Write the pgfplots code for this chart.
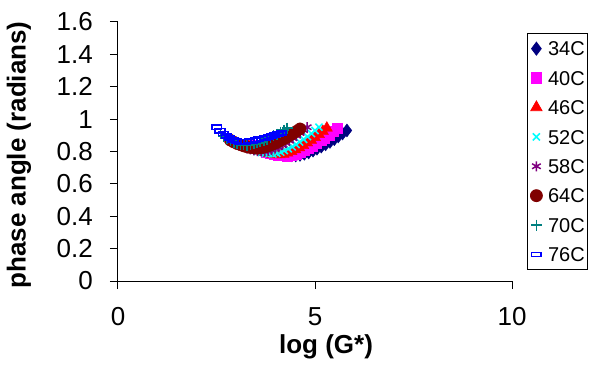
\documentclass[border=0pt]{standalone}
\usepackage{pgfplots}
\pgfplotsset{compat=1.18}
\usepackage{fontspec}
\setmainfont{Liberation Sans}
\definecolor{c34}{RGB}{0,0,128}
\definecolor{c40}{RGB}{255,0,255}
\definecolor{c46}{RGB}{255,0,0}
\definecolor{c52}{RGB}{0,255,255}
\definecolor{c58}{RGB}{128,0,128}
\definecolor{c64}{RGB}{128,0,0}
\definecolor{c70}{RGB}{0,128,128}
\definecolor{c76}{RGB}{0,0,255}
\newcommand{\bigf}{\fontsize{26}{30}\selectfont}
\newcommand{\legf}{\fontsize{20}{24}\selectfont}
\pgfplotsset{myleg/.style={legend image code/.code={\draw[##1,only marks] plot coordinates {(0pt,0pt)};}}}
\begin{document}
\begin{tikzpicture}
\begin{axis}[
  name=ax,
  scale only axis, width=394pt, height=259pt,
  xmin=0, xmax=10, ymin=0, ymax=1.6,
  xtick={0,5,10}, ytick={0,0.2,0.4,0.6,0.8,1,1.2,1.4,1.6},
  axis x line*=bottom, axis y line*=left,
  axis line style={-, line width=1pt},
  tick align=outside, major tick length=8pt,
  tick style={black, line width=1pt},
  ticklabel style={font=\bigf, inner sep=0pt},
  yticklabel style={anchor=east, xshift=-17pt},
  xticklabel style={anchor=north, yshift=-18pt},
  /pgf/number format/assume math mode=true,
  xlabel={\textbf{log (G*)}}, ylabel={\textbf{phase angle (radians)}},
  every axis x label/.style={at={(rel axis cs:0.5,0)}, xshift=11pt, yshift=-72pt, anchor=base, inner sep=0pt, font=\bigf},
  every axis y label/.style={at={(rel axis cs:0,0.5)}, xshift=-99pt, yshift=-3.5pt, rotate=90, anchor=center, inner sep=0pt, font=\bigf},
  legend style={at={(rel axis cs:1.0381,0.9575)}, anchor=north west, draw=black, line width=0.8pt,
    font=\legf, row sep=14.9pt, column sep=5.6pt, inner xsep=3pt, inner ysep=8pt,
    nodes={inner sep=0pt, text height=14.5pt, text depth=0pt}},
  legend cell align=left,
]
\addplot[only marks, myleg, mark=diamond*, mark size=6.5pt, color=c34] coordinates {
(3.65,0.840)(3.76,0.825)(3.87,0.812)(3.97,0.800)(4.08,0.791)(4.19,0.784)(4.30,0.779)(4.41,0.776)(4.51,0.775)
(4.62,0.779)(4.73,0.786)(4.84,0.794)(4.95,0.805)(5.05,0.817)(5.16,0.830)(5.27,0.844)(5.38,0.859)(5.49,0.876)(5.59,0.893)(5.70,0.911)(5.81,0.930)};
\addlegendentry{34C}
\addplot[only marks, myleg, mark=square*, mark size=5.2pt, color=c40] coordinates {
(3.45,0.840)(3.56,0.825)(3.66,0.812)(3.77,0.800)(3.87,0.791)(3.98,0.784)(4.08,0.779)(4.19,0.776)(4.29,0.775)
(4.40,0.779)(4.51,0.787)(4.61,0.796)(4.72,0.808)(4.82,0.821)(4.93,0.835)(5.03,0.851)(5.14,0.868)(5.24,0.886)(5.35,0.904)(5.45,0.924)(5.56,0.945)};
\addlegendentry{40C}
\addplot[only marks, myleg, mark=triangle*, mark size=6.5pt, color=c46] coordinates {
(3.30,0.840)(3.40,0.826)(3.50,0.814)(3.60,0.803)(3.70,0.795)(3.80,0.788)(3.90,0.784)(4.00,0.781)(4.10,0.780)
(4.20,0.784)(4.30,0.791)(4.40,0.801)(4.50,0.812)(4.60,0.824)(4.70,0.838)(4.80,0.854)(4.90,0.870)(5.00,0.887)(5.10,0.906)(5.20,0.925)(5.30,0.945)};
\addlegendentry{46C}
\addplot[only marks, myleg, mark=x, mark size=5pt, line width=1.5pt, color=c52] coordinates {
(3.15,0.850)(3.25,0.835)(3.35,0.822)(3.44,0.810)(3.54,0.801)(3.64,0.794)(3.74,0.789)(3.83,0.786)(3.93,0.785)
(4.03,0.789)(4.13,0.796)(4.22,0.806)(4.32,0.817)(4.42,0.829)(4.52,0.843)(4.61,0.859)(4.71,0.875)(4.81,0.892)(4.91,0.911)(5.00,0.930)(5.10,0.950)};
\addlegendentry{52C}
\addplot[only marks, myleg, mark=asterisk, mark size=5pt, line width=1.5pt, color=c58] coordinates {
(3.00,0.850)(3.09,0.838)(3.18,0.828)(3.27,0.820)(3.36,0.813)(3.45,0.807)(3.54,0.803)(3.63,0.801)(3.72,0.800)
(3.81,0.804)(3.90,0.810)(3.99,0.819)(4.08,0.829)(4.17,0.840)(4.26,0.853)(4.35,0.867)(4.44,0.882)(4.53,0.898)(4.62,0.914)(4.71,0.932)(4.80,0.950)};
\addlegendentry{58C}
\addplot[only marks, myleg, mark=*, mark size=6pt, color=c64] coordinates {
(2.85,0.870)(2.94,0.858)(3.03,0.848)(3.12,0.840)(3.20,0.833)(3.29,0.827)(3.38,0.823)(3.47,0.821)(3.56,0.820)
(3.65,0.823)(3.74,0.828)(3.82,0.835)(3.91,0.843)(4.00,0.852)(4.09,0.863)(4.18,0.874)(4.27,0.885)(4.35,0.898)(4.44,0.911)(4.53,0.925)(4.62,0.940)};
\addlegendentry{64C}
\addplot[only marks, myleg, mark=+, mark size=5.5pt, line width=1.5pt, color=c70] coordinates {
(2.60,0.910)(2.68,0.894)(2.77,0.879)(2.85,0.867)(2.94,0.858)(3.02,0.850)(3.11,0.844)(3.19,0.841)(3.28,0.840)
(3.36,0.843)(3.45,0.847)(3.53,0.853)(3.61,0.860)(3.70,0.868)(3.78,0.877)(3.87,0.887)(3.95,0.897)(4.04,0.908)(4.12,0.920)(4.21,0.932)(4.29,0.945)};
\addlegendentry{70C}
\addplot[only marks, myleg, mark=square, mark size=3pt, mark options={xscale=1.6, yscale=0.7}, line width=1.6pt, color=c76] coordinates {
(2.51,0.950)(2.59,0.929)(2.67,0.911)(2.75,0.895)(2.84,0.883)(2.92,0.873)(3.00,0.866)(3.08,0.861)(3.16,0.860)
(3.24,0.861)(3.33,0.864)(3.41,0.867)(3.49,0.871)(3.57,0.875)(3.65,0.880)(3.73,0.885)(3.81,0.890)(3.90,0.896)(3.98,0.902)(4.06,0.908)(4.14,0.915)};
\addlegendentry{76C}
\end{axis}
\pgfresetboundingbox
\path[use as bounding box] ([xshift=-118pt,yshift=-86pt]ax.south west) rectangle ([xshift=79pt,yshift=22pt]ax.north east);
\end{tikzpicture}
\end{document}
